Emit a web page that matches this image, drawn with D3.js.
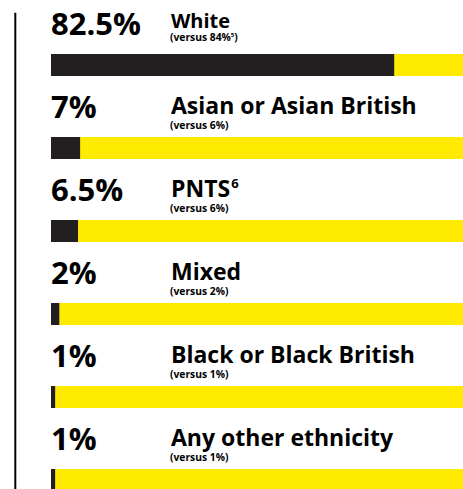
<!DOCTYPE html>
<html>
<head>
<meta charset="utf-8">
<script src="https://cdn.jsdelivr.net/npm/d3@7"></script>
<style>
  body { margin: 0; background: #fff; }
  text { font-family: "Open Sans", "Liberation Sans", sans-serif; font-weight: 700; fill: #000; }
</style>
</head>
<body>
<div id="chart"></div>
<script>
// ethnicity shares, with the comparison figure shown underneath each label
const categories = ["White", "Asian or Asian British", "PNTS", "Mixed", "Black or Black British", "Any other ethnicity"];
const labelNotes = ["", "", "6", "", "", ""];
const values = [82.5, 7, 6.5, 2, 1, 1];
const versusValues = [84, 6, 6, 2, 1, 1];
const versusNotes = ["5", "", "", "", "", ""];

const data = categories.map((c, i) => ({
    name: c,
    note: labelNotes[i],
    value: values[i],
    versus: versusValues[i],
    versusNote: versusNotes[i],
}));

const width = 463;
const height = 489;
const rowStep = 83;
const barTop = 42;
const barHeight = 22;
const labelX = 171;

const svg = d3.select("#chart")
    .append("svg")
    .attr("width", width)
    .attr("height", height);

// full bar is 0-100%, runs off the right edge a little like the original
const x = d3.scaleLinear()
    .domain([0, 100])
    .range([51, 467]);

const y = d3.scaleBand()
    .domain(categories)
    .range([12, 12 + rowStep * categories.length])
    .paddingInner(0)
    .paddingOuter(0);

// left rule
svg.append("line")
    .attr("x1", 15.3).attr("x2", 15.3)
    .attr("y1", 12.7).attr("y2", height)
    .attr("stroke", "#000")
    .attr("stroke-width", 2);

const rows = svg.selectAll("g.row")
    .data(data)
    .enter()
    .append("g")
    .attr("class", "row")
    .attr("transform", d => "translate(0," + y(d.name) + ")");

// yellow background bar (100%)
rows.append("rect")
    .attr("x", x(0))
    .attr("y", barTop)
    .attr("width", x(100) - x(0))
    .attr("height", barHeight)
    .attr("fill", "#FFEB00");

// dark share bar
rows.append("rect")
    .attr("x", x(0))
    .attr("y", barTop)
    .attr("width", d => x(d.value) - x(0))
    .attr("height", barHeight)
    .attr("fill", "#231F20");

// big percentage
rows.append("text")
    .attr("x", 51)
    .attr("y", 23)
    .style("font-size", "31px")
    .text(d => d.value + "%");

// category label (first row is set a touch smaller and higher)
const label = rows.append("text")
    .attr("x", labelX)
    .attr("y", (d, i) => i === 0 ? 15.7 : 19.3)
    .style("font-size", (d, i) => i === 0 ? "20px" : "23px");
label.append("tspan").text(d => d.name);
label.filter(d => d.note).append("tspan")
    .attr("dy", -9)
    .attr("dx", 1)
    .style("font-size", "13px")
    .text(d => d.note);

// comparison line
const versus = rows.append("text")
    .attr("x", labelX - 1)
    .attr("y", (d, i) => i === 0 ? 28.7 : 34)
    .style("font-size", "10.3px");
versus.append("tspan").text(d => "(versus " + d.versus + "%");
versus.filter(d => d.versusNote).append("tspan")
    .attr("dy", -4)
    .style("font-size", "6px")
    .text(d => d.versusNote);
versus.append("tspan")
    .attr("dy", d => d.versusNote ? 4 : 0)
    .text(")");
</script>
</body>
</html>
